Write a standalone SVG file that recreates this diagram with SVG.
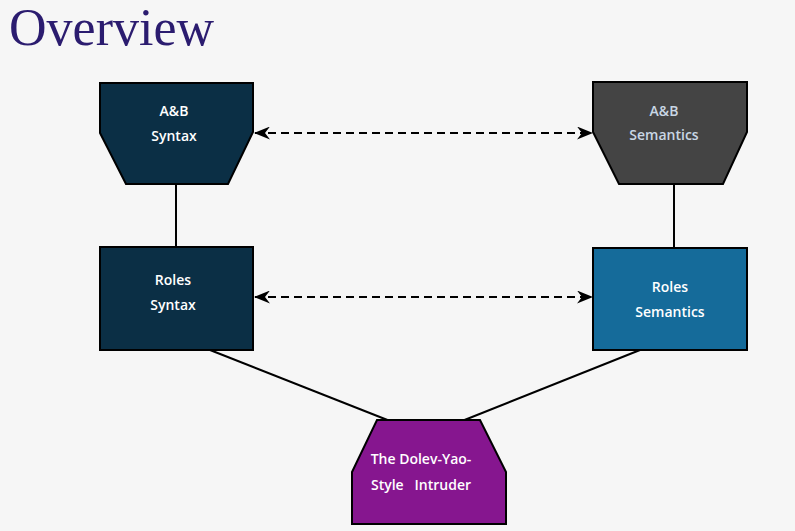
<svg xmlns="http://www.w3.org/2000/svg" width="795" height="531" viewBox="0 0 795 531">
<defs>
<marker id="ah" viewBox="0 0 16 13" refX="15" refY="6.5" markerWidth="16" markerHeight="13" markerUnits="userSpaceOnUse" orient="auto-start-reverse">
<path d="M0,0 L16,6.5 L0,13 L5,6.5 Z" fill="#000"/>
</marker>
<style>
.box{stroke:#000;stroke-width:2}
.t{font-family:"Open Sans","DejaVu Sans",sans-serif;font-size:14px;font-weight:600;text-anchor:middle;fill:#fff}
.line{stroke:#000;stroke-width:2;fill:none}
.dash{stroke:#000;stroke-width:2;fill:none;stroke-dasharray:8 5}
</style>
</defs>
<rect width="795" height="531" fill="#f6f6f6"/>
<text x="9" y="45" font-family="Liberation Serif,serif" font-size="52" fill="#2b1c6f">Overview</text>
<g id="connectors">
<line class="line" x1="176" y1="184" x2="176" y2="247"/>
<line class="line" x1="674" y1="184" x2="674" y2="248"/>
<line class="dash" x1="255" y1="133" x2="592" y2="133" marker-start="url(#ah)" marker-end="url(#ah)"/>
<line class="dash" x1="255" y1="297" x2="592" y2="297" marker-start="url(#ah)" marker-end="url(#ah)"/>
<line class="line" x1="210" y1="350" x2="390" y2="421"/>
<line class="line" x1="640" y1="350" x2="462" y2="421"/>
</g>
<g id="ab-syntax">
<path class="box" d="M100,83 L253,83 L253,132 L228,184 L126,184 L100,133 Z" fill="#0b2f45"/>
<text class="t" x="174" y="116">A&amp;B</text>
<text class="t" x="174" y="141">Syntax</text>
</g>
<g id="ab-semantics">
<path class="box" d="M593,82 L747,82 L747,132 L723,184 L619,184 L593,132 Z" fill="#444444"/>
<text class="t" x="664" y="116" style="fill:#c9d7e4">A&amp;B</text>
<text class="t" x="664" y="140" style="fill:#c9d7e4">Semantics</text>
</g>
<g id="roles-syntax">
<rect class="box" x="100" y="247" width="153" height="103" fill="#0b2f45"/>
<text class="t" x="173" y="285">Roles</text>
<text class="t" x="173" y="310">Syntax</text>
</g>
<g id="roles-semantics">
<rect class="box" x="593" y="248" width="154" height="102" fill="#156b9a"/>
<text class="t" x="670" y="292">Roles</text>
<text class="t" x="670" y="317">Semantics</text>
</g>
<g id="intruder">
<path class="box" d="M377,420 L480,420 L506,472 L506,524 L352,524 L352,472 Z" fill="#86168f"/>
<text class="t" x="421" y="464">The Dolev-Yao-</text>
<text class="t" x="421" y="490" xml:space="preserve">Style   Intruder</text>
</g>
</svg>
